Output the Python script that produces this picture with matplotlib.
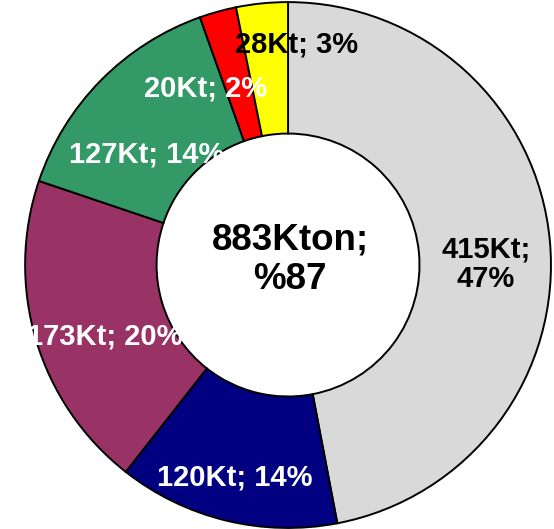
import matplotlib.pyplot as plt

plt.rcParams["font.family"] = ["Liberation Sans", "DejaVu Sans"]

# data, clockwise from 12 o'clock
values = [415, 120, 173, 127, 20, 28]
colors = ["#D9D9D9", "#000080", "#993366", "#339966", "#FF0000", "#FFFF00"]
text_colors = ["black", "white", "white", "white", "white", "black"]
total_label = "883Kton;\n%87"

# label anchor points (data coords, pie radius = 1)
label_xy = [(0.753, 0.004), (-0.202, -0.810), (-0.696, -0.270),
            (-0.536, 0.422), (-0.312, 0.673), (0.034, 0.840)]

total = sum(values)
labels = []
for v in values:
    pct = round(100 * v / total)
    labels.append(f"{v}Kt; {pct}%")
labels[0] = labels[0].replace(" ", "\n")

fig = plt.figure(figsize=(5.54, 5.29), dpi=100)
ax = fig.add_axes([0, 0, 1, 1])

ax.pie(values, colors=colors, startangle=90, counterclock=False, radius=1,
       wedgeprops=dict(width=0.5, edgecolor="black", linewidth=1.4))

for (x, y), lab, tc in zip(label_xy, labels, text_colors):
    ax.text(x, y, lab, ha="center", va="center", color=tc,
            fontsize=21, fontweight="bold", linespacing=1.05)

ax.text(0.008, 0.02, total_label, ha="center", va="center", color="black",
        fontsize=26.5, fontweight="bold", linespacing=1.15)

ax.set_xlim(-1.095, 1.011)
ax.set_ylim(-1.004, 1.008)
ax.set_aspect("equal")
ax.axis("off")

fig.savefig("out.png", dpi=100)
